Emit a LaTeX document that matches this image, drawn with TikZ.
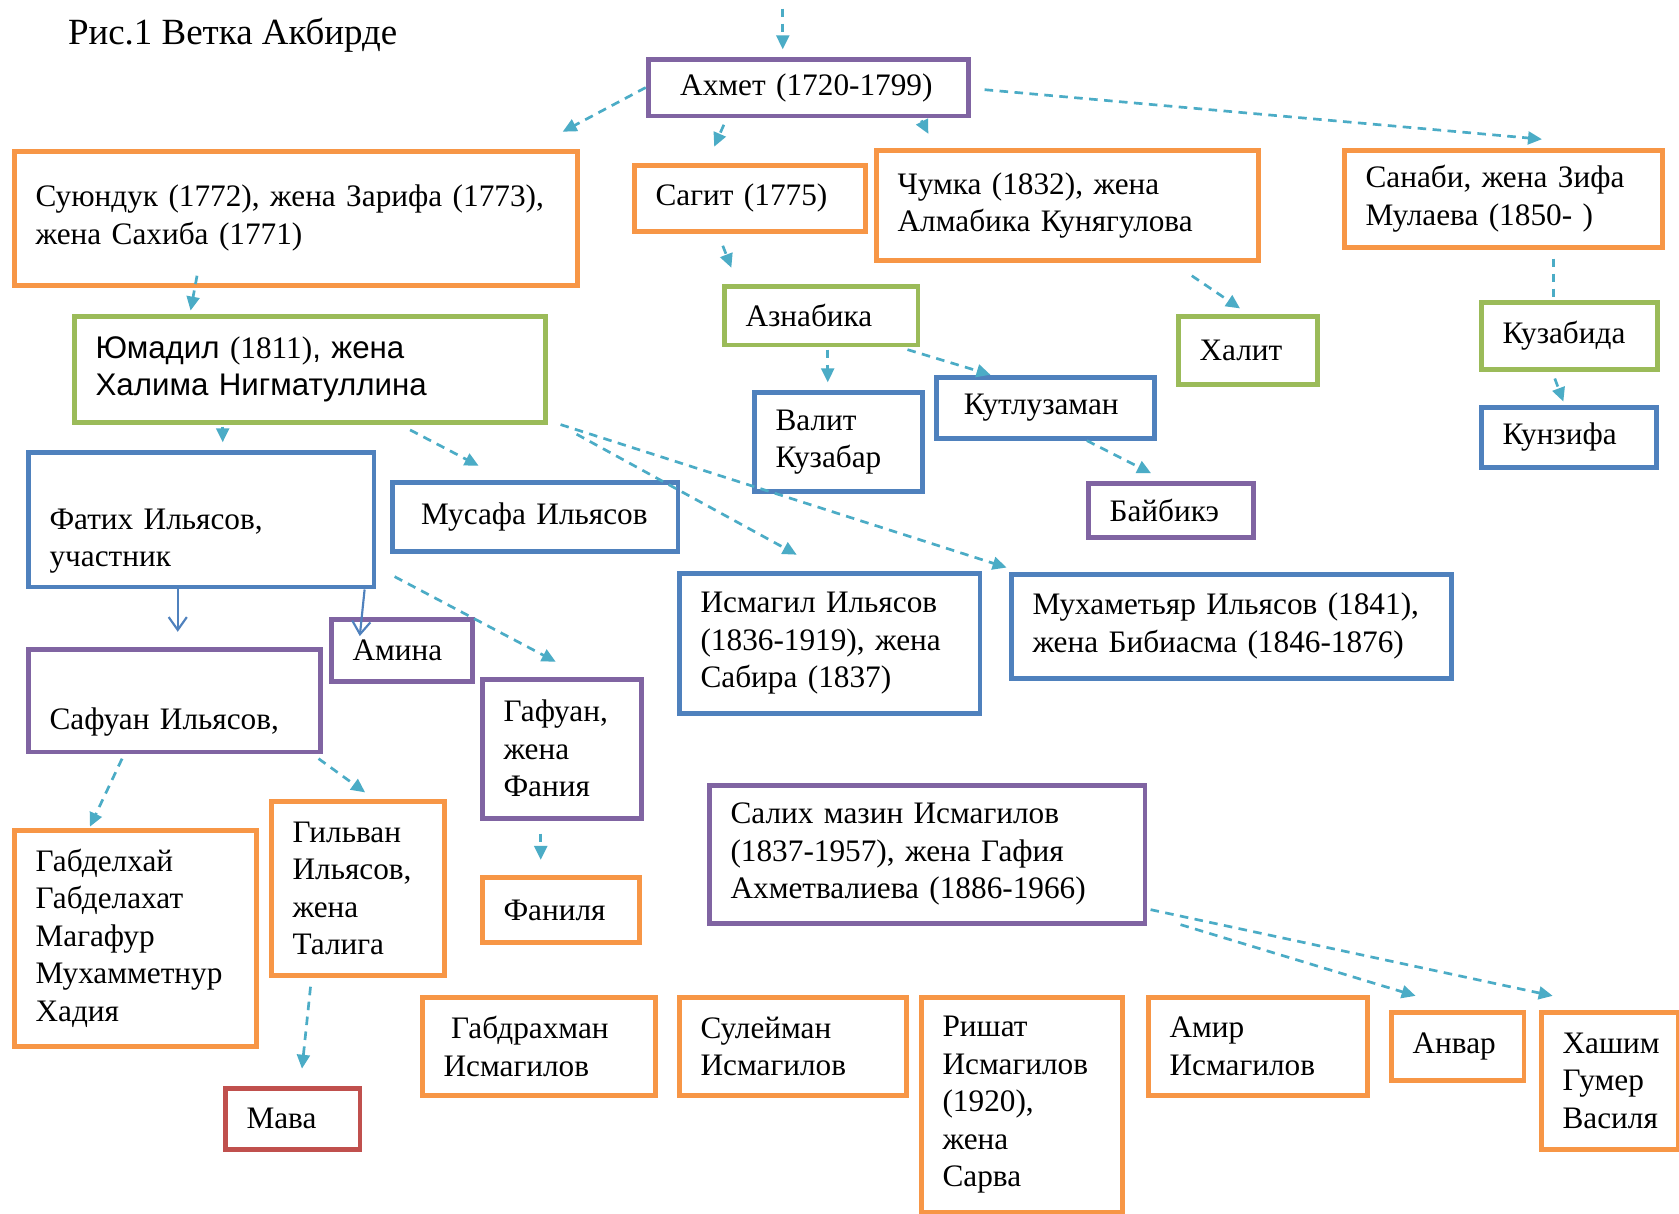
\documentclass[tikz,border=0pt]{standalone}
\usepackage{fontspec}
\setmainfont{Liberation Serif}
\newfontfamily\arialfont{Liberation Sans}
\usetikzlibrary{
		calc,
		positioning,
		arrows.meta
	}
\definecolor{boxorange}{HTML}{F79646}
\definecolor{boxpurple}{HTML}{8064A2}
\definecolor{boxgreen}{HTML}{9BBB59}
\definecolor{boxblue}{HTML}{4F81BD}
\definecolor{boxred}{HTML}{C0504D}
\definecolor{linkaqua}{HTML}{4BACC6}
\tikzset{
		>=stealth,
		box/.style={draw=#1, line width=4.5pt, anchor=north west, align=left,
			inner xsep=20pt, inner ysep=0pt, font=\fontsize{29.2}{35}\selectfont},
		link/.style={linkaqua, line width=2.5pt, dash pattern=on 8pt off 6pt,
			-{Triangle[length=13pt,width=12pt]}},
		tie/.style={boxblue, line width=2pt, -{Straight Barb[length=12pt,width=17pt]}}
	}
\begin{document}
\begin{tikzpicture}[x=1pt, y=-1pt] % one unit = one pixel of the sheet, y runs downwards
		\fill[white] (0,0) rectangle (1568,1133);
		\useasboundingbox (0,0) rectangle (1568,1133);
		\node[anchor=base west, font=\fontsize{34.5}{40}\selectfont] (title) at (60,42) {Рис.1 Ветка Акбирде};
		% first generations
		\node[box=boxpurple, text width=259pt, minimum height=53pt] (ahmet) at (603,53) {\hspace*{10pt}Ахмет (1720-1799)};
		\node[box=boxorange, text width=486pt, minimum height=125pt] (suyunduk) at (11,139) {Суюндук (1772), жена Зарифа (1773),\\жена Сахиба (1771)};
		\node[box=boxorange, text width=176pt, minimum height=62pt] (sagit) at (590,152) {Сагит (1775)};
		\node[box=boxorange, text width=317pt, minimum height=103pt] (chumka) at (816,138) {Чумка (1832), жена\\Алмабика Кунягулова};
		\node[box=boxorange, text width=257pt, minimum height=91pt] (sanabi) at (1253,138) {Санаби, жена Зифа\\Мулаева (1850- )};
		\node[box=boxgreen, text width=141pt, minimum height=55pt] (aznabika) at (674,265) {Азнабика};
		\node[box=boxgreen, text width=90pt, minimum height=64pt] (halit) at (1098,293) {Халит};
		\node[box=boxgreen, text width=125pt, minimum height=63pt] (kuzabida) at (1381,280) {Кузабида};
		\node[box=boxblue, text width=124pt, minimum height=56pt] (kunzifa) at (1381,378) {Кунзифа};
		\node[box=boxgreen, text width=400pt, minimum height=99pt] (yumadil) at (67,293) {{\arialfont Юмадил} (1811){\arialfont , жена}\\{\arialfont Халима Нигматуллина}};
		\node[box=boxblue, text width=117pt, minimum height=93pt] (valit) at (702,364) {Валит\\Кузабар};
		\node[box=boxblue, text width=164pt, minimum height=57pt] (kutluzaman) at (872,350) {\hspace*{6pt}Кутлузаман};
		\node[box=boxpurple, text width=114pt, minimum height=51pt] (baybike) at (1014,449) {Байбикэ};
		% Ilyasov line
		\node[box=boxblue, text width=283pt, minimum height=126pt] (fatih) at (24,420) {\strut\\Фатих Ильясов,\\участник};
		\node[box=boxblue, text width=227pt, minimum height=65pt] (musafa) at (364,448) {\hspace*{7pt}Мусафа Ильясов};
		\node[box=boxblue, text width=241pt, minimum height=131pt] (ismagil) at (632,533) {Исмагил Ильясов\\(1836-1919), жена\\Сабира (1837)};
		\node[box=boxblue, text width=371pt, minimum height=97pt] (muhametyar) at (942,534) {Мухаметьяр Ильясов (1841),\\жена Бибиасма (1846-1876)};
		\node[box=boxpurple, text width=92pt, minimum height=58pt] (amina) at (307,576) {Амина};
		\node[box=boxpurple, text width=233pt, minimum height=96pt] (safuan) at (24,604) {\strut\\Сафуан Ильясов,};
		\node[box=boxpurple, text width=109pt, minimum height=130pt] (gafuan) at (448,632) {Гафуан,\\жена\\Фания};
		\node[box=boxorange, text width=186pt, minimum height=202pt] (gabdelhay) at (11,773) {Габделхай\\Габделахат\\Магафур\\Мухамметнур\\Хадия};
		\node[box=boxorange, text width=122pt, minimum height=163pt] (gilvan) at (251,746) {Гильван\\Ильясов,\\жена\\Талига};
		\node[box=boxorange, text width=107pt, minimum height=61pt] (fanilya) at (448,817) {Фаниля};
		\node[box=boxpurple, text width=367pt, minimum height=129pt] (salih) at (660,731) {Салих мазин Исмагилов\\(1837-1957), жена Гафия\\Ахметвалиева (1886-1966)};
		\node[box=boxred, text width=86pt, minimum height=57pt] (mava) at (208,1014) {Мава};
		% Ismagilov children
		\node[box=boxorange, text width=178pt, minimum height=92pt] (gabdrahman) at (392,929) {\hspace*{7pt}Габдрахман\\Исмагилов};
		\node[box=boxorange, text width=172pt, minimum height=92pt] (suleyman) at (632,929) {Сулейман\\Исмагилов};
		\node[box=boxorange, text width=148pt, minimum height=201pt] (rishat) at (858,929) {Ришат\\Исмагилов\\(1920),\\жена\\Сарва};
		\node[box=boxorange, text width=165pt, minimum height=92pt] (amir) at (1070,929) {Амир\\Исмагилов};
		\node[box=boxorange, text width=84pt, minimum height=64pt] (anvar) at (1297,943) {Анвар};
		\node[box=boxorange, text width=88pt, minimum height=128pt] (hashim) at (1437,943) {Хашим\\Гумер\\Василя};
		% connectors
		\coordinate (top) at (731,8);
		\draw[link, shorten >=7pt] (top) -- (top |- ahmet.north);
		\draw[link] (ahmet.west) -- ($(suyunduk.north east)+(-16,-16)$);
		\draw[link] ($(ahmet.south west)+(73,6)$) -- ($(sagit.north west)+(77,-15)$);
		\draw[link] ($(ahmet.south east)+(-46,2)$) -- ($(chumka.north west)+(51,-13)$);
		\draw[link] ($(ahmet.east)+(13,2)$) -- ($(sanabi.north west)+(187,-8)$);
		\draw[link] ($(suyunduk.south west)+(173,-11)$) -- ($(yumadil.north west)+(111,-3)$);
		\draw[link] ($(sagit.south west)+(85,11)$) -- ($(aznabika.north west)+(9,-15)$);
		\draw[link] ($(chumka.south west)+(297,12)$) -- ($(halit.north west)+(60,-5)$);
		\draw[link, -] ($(sanabi.south west)+(198,8)$) -- ($(kuzabida.north west)+(70,0)$);
		\draw[link] ($(kuzabida.south west)+(71,6)$) -- ($(kunzifa.north west)+(79,-3)$);
		\draw[link] ($(aznabika.south west)+(99,2)$) -- ($(valit.north west)+(71,-7)$);
		\draw[link] ($(aznabika.south east)+(-12,2)$) -- ($(kutluzaman.north west)+(53,0)$);
		\draw[link] ($(kutluzaman.south west)+(143,0)$) -- ($(baybike.north west)+(61,-7)$);
		\draw[link] ($(yumadil.south west)+(141,2)$) -- ($(fatih.north west)+(184,-7)$);
		\draw[link] ($(yumadil.south west)+(316,5)$) -- ($(musafa.north west)+(83,-13)$);
		\draw[link] ($(yumadil.south east)+(27,9)$) -- ($(ismagil.north west)+(112,-15)$);
		\draw[link] ($(yumadil.south east)+(12,0)$) -- ($(muhametyar.north west)+(-2,-4)$);
		\draw[tie] ($(fatih.south west)+(142,0)$) -- ($(safuan.north west)+(142,-14)$);
		\draw[tie] ($(fatih.south east)+(-11,0)$) -- ($(amina.north west)+(29,18)$);
		\draw[link] ($(fatih.south east)+(17,-12)$) -- ($(gafuan.north west)+(71,-14)$);
		\draw[link] ($(safuan.south west)+(90,4)$) -- ($(gabdelhay.north west)+(73,-1)$);
		\draw[link] ($(safuan.south east)+(-4,4)$) -- ($(gilvan.north west)+(90,-6)$);
		\draw[link] ($(gafuan.south west)+(57,12)$) -- ($(fanilya.north west)+(57,-14)$);
		\draw[link] ($(gilvan.south west)+(39,8)$) -- ($(mava.north west)+(74,-16)$);
		\draw[link] ($(salih.south east)+(31,-1)$) -- ($(anvar.north west)+(25,-13)$);
		\draw[link] ($(salih.south east)+(3,-15)$) -- ($(hashim.north west)+(13,-13)$);
	\end{tikzpicture}
\end{document}
